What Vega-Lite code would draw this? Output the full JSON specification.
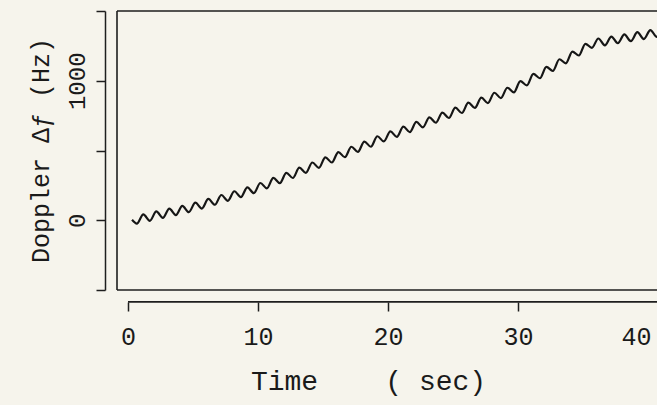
{
  "$schema": "https://vega.github.io/schema/vega-lite/v6.json",
  "width": 540,
  "height": 279,
  "autosize": {"type": "none"},
  "padding": {"left": 117, "top": 11, "right": 0, "bottom": 115},
  "background": "#f6f4ec",
  "config": {"view": {"stroke": null}, "font": "Liberation Mono"},
  "data": {"values": [
    {"t": 0.31, "hz": 3},
    {"t": 0.68, "hz": -24}, {"t": 1.18, "hz": 42}, {"t": 1.68, "hz": -4}, {"t": 2.18, "hz": 63},
    {"t": 2.68, "hz": 17}, {"t": 3.18, "hz": 83}, {"t": 3.68, "hz": 37}, {"t": 4.18, "hz": 103},
    {"t": 4.68, "hz": 58}, {"t": 5.18, "hz": 126}, {"t": 5.68, "hz": 84}, {"t": 6.18, "hz": 153},
    {"t": 6.68, "hz": 111}, {"t": 7.18, "hz": 181}, {"t": 7.68, "hz": 139}, {"t": 8.18, "hz": 208},
    {"t": 8.68, "hz": 166}, {"t": 9.18, "hz": 236}, {"t": 9.68, "hz": 194}, {"t": 10.18, "hz": 267},
    {"t": 10.68, "hz": 229}, {"t": 11.18, "hz": 304}, {"t": 11.68, "hz": 266}, {"t": 12.18, "hz": 340},
    {"t": 12.68, "hz": 303}, {"t": 13.18, "hz": 377}, {"t": 13.68, "hz": 340}, {"t": 14.18, "hz": 414},
    {"t": 14.68, "hz": 376}, {"t": 15.18, "hz": 451}, {"t": 15.68, "hz": 414}, {"t": 16.18, "hz": 489},
    {"t": 16.68, "hz": 452}, {"t": 17.18, "hz": 527}, {"t": 17.68, "hz": 490}, {"t": 18.18, "hz": 564},
    {"t": 18.68, "hz": 527}, {"t": 19.18, "hz": 602}, {"t": 19.68, "hz": 565}, {"t": 20.18, "hz": 637},
    {"t": 20.68, "hz": 598}, {"t": 21.18, "hz": 671}, {"t": 21.68, "hz": 632}, {"t": 22.18, "hz": 705},
    {"t": 22.68, "hz": 666}, {"t": 23.18, "hz": 738}, {"t": 23.68, "hz": 699}, {"t": 24.18, "hz": 772},
    {"t": 24.68, "hz": 733}, {"t": 25.18, "hz": 807}, {"t": 25.68, "hz": 769}, {"t": 26.18, "hz": 843},
    {"t": 26.68, "hz": 805}, {"t": 27.18, "hz": 879}, {"t": 27.68, "hz": 840}, {"t": 28.18, "hz": 914},
    {"t": 28.68, "hz": 876}, {"t": 29.18, "hz": 950}, {"t": 29.68, "hz": 916}, {"t": 30.18, "hz": 998},
    {"t": 30.68, "hz": 967}, {"t": 31.18, "hz": 1049}, {"t": 31.68, "hz": 1018}, {"t": 32.18, "hz": 1100},
    {"t": 32.68, "hz": 1070}, {"t": 33.18, "hz": 1154}, {"t": 33.68, "hz": 1125}, {"t": 34.18, "hz": 1209},
    {"t": 34.68, "hz": 1181}, {"t": 35.18, "hz": 1265}, {"t": 35.68, "hz": 1236}, {"t": 36.18, "hz": 1303},
    {"t": 36.68, "hz": 1254}, {"t": 37.18, "hz": 1317}, {"t": 37.68, "hz": 1269}, {"t": 38.18, "hz": 1332},
    {"t": 38.68, "hz": 1284}, {"t": 39.18, "hz": 1348}, {"t": 39.68, "hz": 1299}, {"t": 40.18, "hz": 1363},
    {"t": 40.68, "hz": 1314}, {"t": 41.18, "hz": 1378}
  ]},
  "layer": [
    {
      "data": {"values": [{}]},
      "mark": {"type": "rule", "color": "#1e1e1e", "strokeWidth": 1.6},
      "encoding": {"y": {"datum": 1500, "type": "quantitative", "scale": {"domain": [-500, 1500], "nice": false, "zero": false}}}
    },
    {
      "data": {"values": [{}]},
      "mark": {"type": "rule", "color": "#1e1e1e", "strokeWidth": 1.6},
      "encoding": {"y": {"datum": -500, "type": "quantitative", "scale": {"domain": [-500, 1500], "nice": false, "zero": false}}}
    },
    {
      "data": {"values": [{}]},
      "mark": {"type": "rule", "color": "#1e1e1e", "strokeWidth": 1.6},
      "encoding": {"x": {"datum": -0.846, "type": "quantitative", "scale": {"domain": [-0.846, 40.69], "nice": false, "zero": false}}}
    },
    {
      "data": {"values": [{}]},
      "mark": {"type": "rule", "color": "#1e1e1e", "strokeWidth": 1.6, "clip": false},
      "encoding": {
        "x": {"datum": 0, "type": "quantitative", "scale": {"domain": [-0.846, 40.69], "nice": false, "zero": false}},
        "x2": {"datum": 40.69},
        "y": {"datum": -585, "type": "quantitative", "scale": {"domain": [-500, 1500], "nice": false, "zero": false}}
      }
    },
    {
      "mark": {"type": "line", "interpolate": "monotone", "color": "#161616", "strokeWidth": 2.2, "clip": true},
      "encoding": {
        "x": {
          "field": "t", "type": "quantitative",
          "scale": {"domain": [-0.846, 40.69], "nice": false, "zero": false},
          "axis": {
            "values": [0, 10, 20, 30, 40],
            "domain": false, "grid": false, "offset": 12,
            "tickSize": 9, "tickWidth": 1.5, "tickColor": "#1e1e1e",
            "tickOpacity": {"condition": {"test": "datum.value == 40", "value": 0}, "value": 1},
            "labelOffset": {"condition": {"test": "datum.value == 40", "value": -12}, "value": 0},
            "labelFont": "Liberation Mono", "labelFontSize": 25, "labelColor": "#1a1a1a", "labelPadding": 13,
            "labelFlush": false, "labelOverlap": false,
            "title": "Time\u00a0\u00a0\u00a0\u00a0(\u00a0sec)", "titleFont": "Liberation Mono", "titleFontSize": 28,
            "titleFontWeight": "normal", "titleColor": "#1a1a1a",
            "titleX": 251, "titleY": 65, "titleBaseline": "top", "titleAlign": "center"
          }
        },
        "y": {
          "field": "hz", "type": "quantitative",
          "scale": {"domain": [-500, 1500], "nice": false, "zero": false},
          "axis": {
            "values": [-500, 0, 500, 1000, 1500],
            "labelExpr": "datum.value == 0 || datum.value == 1000 ? datum.label : ''",
            "format": "d",
            "domain": true, "domainColor": "#1e1e1e", "domainWidth": 1.5,
            "grid": false, "offset": 12,
            "tickSize": 9, "tickWidth": 1.5, "tickColor": "#1e1e1e",
            "labelAngle": -90, "labelFont": "Liberation Mono", "labelFontSize": 24, "labelColor": "#1a1a1a",
            "labelPadding": 7, "labelFlush": false, "labelOverlap": false,
            "title": "Doppler Δƒ (Hz)", "titleFont": "Liberation Mono", "titleFontSize": 25,
            "titleFontWeight": "normal", "titleColor": "#1a1a1a",
            "titleAngle": -90, "titleX": -65, "titleY": 139, "titleBaseline": "middle", "titleAlign": "center"
          }
        }
      }
    }
  ]
}
